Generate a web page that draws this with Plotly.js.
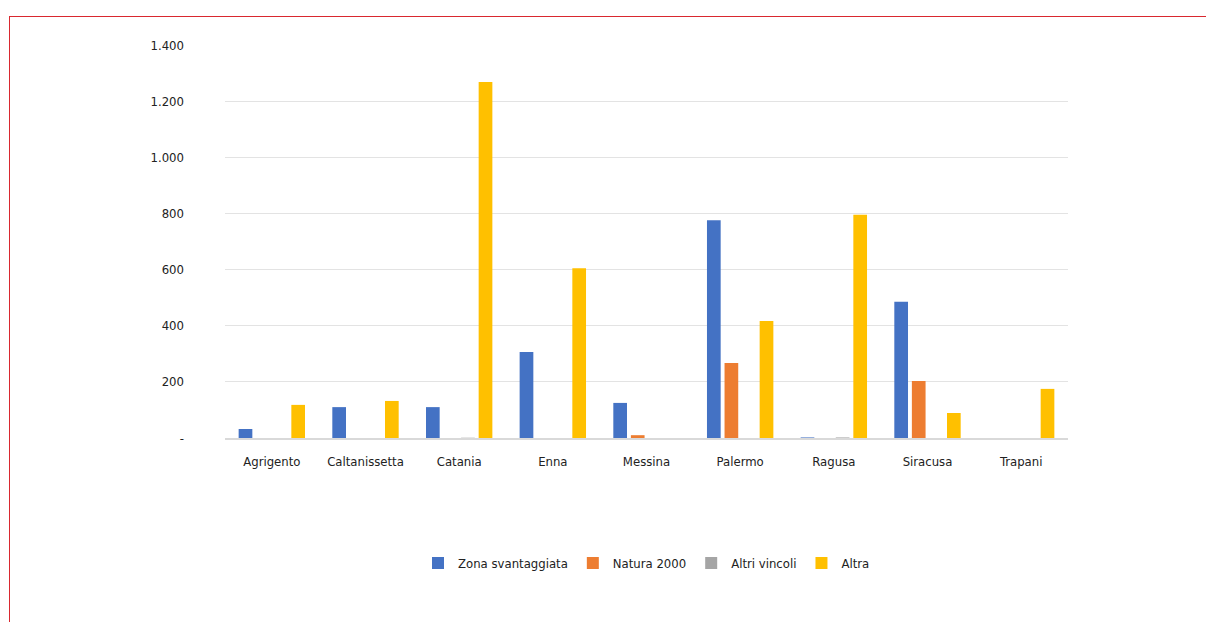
<!DOCTYPE html>
<html><head><meta charset="utf-8">
<script src="https://cdn.plot.ly/plotly-3.0.1.min.js"></script>
<style>
html,body{margin:0;padding:0;background:#fff;}
#frame{position:absolute;left:9px;top:16px;width:1197px;height:606px;border-top:1px solid #d9282f;border-left:1px solid #d9282f;box-sizing:border-box;}
#chart{position:absolute;left:0;top:0;width:1206px;height:622px;}
#chart text{font-stretch:condensed;}
</style></head>
<body>
<div id="frame"></div>
<div id="chart"></div>
<script>
const categories = ["Agrigento","Caltanissetta","Catania","Enna","Messina","Palermo","Ragusa","Siracusa","Trapani"];
const zonaSvantaggiata = [32, 110, 110, 306, 125, 776, 2, 485, 0];
const natura2000 = [0, 0, 0, 0, 10, 267, 0, 203, 0];
const altriVincoli = [0, 0, 1, 0, 0, 0, 2, 0, 0];
const altra = [118, 132, 1268, 605, 0, 417, 795, 89, 175];
const yTickVals = [0, 200, 400, 600, 800, 1000, 1200, 1400];
const yTickText = ["-", "200", "400", "600", "800", "1.000", "1.200", "1.400"];

const font = "'DejaVu Sans Condensed','DejaVu Sans',sans-serif";
function tr(name, y, color){
  return {type:'bar', name:name, x:categories, y:y, marker:{color:color}, hoverinfo:'x+y+name'};
}
const data = [
  tr('Zona svantaggiata', zonaSvantaggiata, '#4472c4'),
  tr('Natura 2000', natura2000, '#ed7d31'),
  tr('Altri vincoli', altriVincoli, '#a5a5a5'),
  tr('Altra', altra, '#ffc000')
];
const layout = {
  width:1206, height:622,
  paper_bgcolor:'rgba(0,0,0,0)', plot_bgcolor:'rgba(0,0,0,0)',
  margin:{l:225, r:138, t:45, b:184},
  barmode:'group', bargap:0.25, bargroupgap:0.22,
  font:{family:font, size:13, color:'#222'},
  xaxis:{type:'category', showgrid:false, showline:true, linecolor:'#d9d9d9', linewidth:2,
    ticks:'', ticklabelstandoff:10, tickfont:{family:font, size:13, color:'#222'}},
  yaxis:{range:[0,1400], tickvals:yTickVals, ticktext:yTickText, showgrid:true,
    gridcolor:'#e3e3e3', gridwidth:1, zeroline:false, showline:false, ticks:'', ticklabelstandoff:40,
    tickfont:{family:font, size:13, color:'#222'}},
  legend:{orientation:'h', x:0.5, xanchor:'center', y:-0.28, yanchor:'top',
    font:{family:font, size:13, color:'#222'}, itemwidth:20, traceorder:'normal'},
  showlegend:true
};
Plotly.newPlot('chart', data, layout, {displayModeBar:false, staticPlot:true});
</script>
</body></html>
